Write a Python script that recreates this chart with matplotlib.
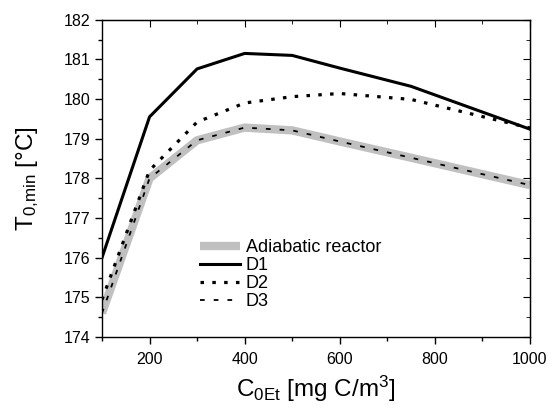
import matplotlib
matplotlib.use('Agg')
import matplotlib.pyplot as plt
from matplotlib.ticker import MultipleLocator

plt.rcParams['font.family'] = ['Liberation Sans', 'DejaVu Sans']
plt.rcParams['mathtext.fontset'] = 'custom'
plt.rcParams['mathtext.rm'] = 'Liberation Sans'
plt.rcParams['mathtext.it'] = 'Liberation Sans:italic'
plt.rcParams['mathtext.default'] = 'regular'

# Data
conc = [100, 200, 300, 400, 500, 600, 750, 1000]
adiabatic = [174.6, 178.0, 178.96, 179.28, 179.21, 178.93, 178.52, 177.83]
d1 = [176.0, 179.55, 180.76, 181.15, 181.1, 180.78, 180.32, 179.24]
d2 = [174.94, 178.2, 179.42, 179.9, 180.06, 180.14, 179.99, 179.27]
d3 = [174.6, 178.0, 178.96, 179.28, 179.21, 178.93, 178.52, 177.83]

fig = plt.figure(figsize=(5.53, 4.09), dpi=100)
ax = fig.add_axes([0.1844, 0.176, 0.9584 - 0.1844, 0.9518 - 0.176])

ax.plot(conc, adiabatic, color='#c0c0c0', lw=6, solid_capstyle='butt',
        label='Adiabatic reactor')
ax.plot(conc, d1, color='black', lw=2.2, label='D1')
ax.plot(conc, d2, color='black', lw=2.3, linestyle=(0, (1.1, 2.6)),
        dash_capstyle='butt', label='D2')
ax.plot(conc, d3, color='black', lw=1.3, linestyle=(0, (2.6, 5.0)),
        label='D3')

ax.set_xlim(100, 1000)
ax.set_ylim(174, 182)
ax.xaxis.set_major_locator(MultipleLocator(200))
ax.xaxis.set_minor_locator(MultipleLocator(100))
ax.yaxis.set_major_locator(MultipleLocator(1))
ax.yaxis.set_minor_locator(MultipleLocator(0.5))
ax.tick_params(which='major', direction='out', length=5, width=1,
               labelsize=11.5, pad=3)
ax.tick_params(which='minor', direction='out', length=3, width=1)
ax.tick_params(axis='x', which='major', pad=6)
for s in ax.spines.values():
    s.set_linewidth(1)

# mirrored ticks pointing inward on top and right
top = ax.secondary_xaxis('top')
top.xaxis.set_major_locator(MultipleLocator(200))
top.xaxis.set_minor_locator(MultipleLocator(100))
top.tick_params(which='major', direction='in', length=5, labeltop=False)
top.tick_params(which='minor', direction='in', length=3)
right = ax.secondary_yaxis('right')
right.yaxis.set_major_locator(MultipleLocator(1))
right.yaxis.set_minor_locator(MultipleLocator(0.5))
right.tick_params(which='major', direction='in', length=5, labelright=False)
right.tick_params(which='minor', direction='in', length=3)

ax.set_xlabel('C$_{0Et}$ [mg C/m$^{3}$]', fontsize=17.5, labelpad=5)
ax.set_ylabel('T$_{0{,}min}$ [°C]', fontsize=17.5, labelpad=17)

ax.legend(loc='lower left', bbox_to_anchor=(0.229, 0.085), frameon=False,
          fontsize=13, handlelength=2.2, handletextpad=0.33,
          labelspacing=0.05, borderpad=0, borderaxespad=0)

fig.savefig('out.png', dpi=100)
